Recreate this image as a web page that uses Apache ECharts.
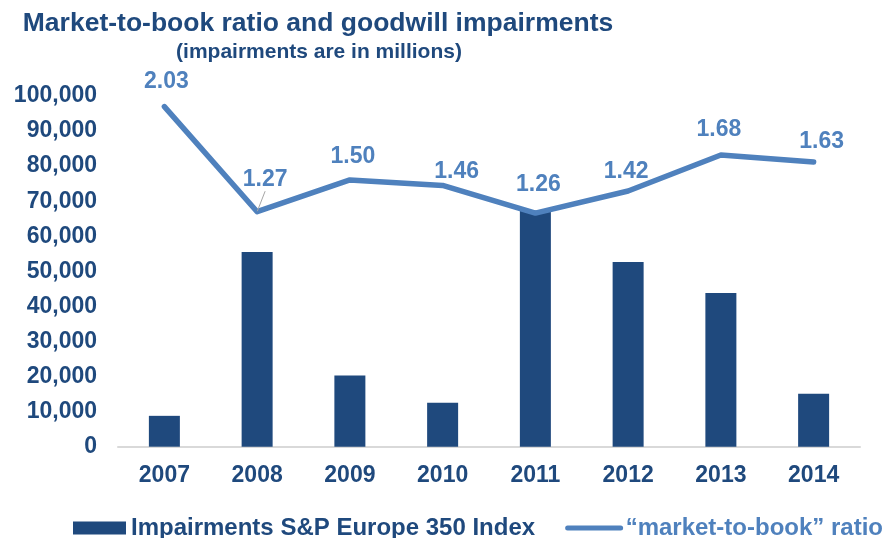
<!DOCTYPE html>
<html>
<head>
<meta charset="utf-8">
<script src="https://cdn.jsdelivr.net/npm/echarts@6/dist/echarts.min.js"></script>
<style>
  html, body { margin: 0; padding: 0; background: #ffffff; }
  #chart { width: 883px; height: 538px; }
</style>
</head>
<body>
<div id="chart"></div>
<script>
// Fiscal years on the category axis
const years = ['2007', '2008', '2009', '2010', '2011', '2012', '2013', '2014'];
// Goodwill impairments, S&P Europe 350 Index (millions)
const impairments = [8800, 55500, 20300, 12500, 67300, 52700, 43800, 15100];
// Market-to-book ratio
const marketToBook = [2.03, 1.27, 1.50, 1.46, 1.26, 1.42, 1.68, 1.63];
// Left axis ticks
const impairmentTicks = [0, 10000, 20000, 30000, 40000, 50000, 60000, 70000, 80000, 90000, 100000];

const barName = 'Impairments S&P Europe 350 Index';
const lineName = '\u201cmarket-to-book\u201d ratio';

const FONT = '"Liberation Sans", Arial, Helvetica, sans-serif';
const NAVY = '#1f497d';
const BLUE = '#4f81bd';

// Hand-placed offsets for the ratio labels (dx, dy from the point)
const ratioLabelNudge = [[2, -25], [8, -32], [3, -23], [14, -14], [3, -28], [-2, -19], [-2, -25], [8, -20]];

const chart = echarts.init(document.getElementById('chart'), null, { renderer: 'canvas' });

chart.setOption({
  animation: false,
  backgroundColor: '#ffffff',
  graphic: [
    {
      type: 'text', x: 318, y: 23.5,
      style: {
        text: 'Market-to-book ratio and goodwill impairments',
        font: 'bold 26.5px ' + FONT, fill: NAVY,
        textAlign: 'center', textVerticalAlign: 'middle'
      }
    },
    {
      type: 'text', x: 319, y: 52.5,
      style: {
        text: '(impairments are in millions)',
        font: 'bold 21px ' + FONT, fill: NAVY,
        textAlign: 'center', textVerticalAlign: 'middle'
      }
    }
  ],
  grid: { left: 118, right: 23, top: 96, bottom: 91.3, containLabel: false },
  legend: {
    left: 73, top: 516, width: 830,
    padding: 0,
    itemWidth: 53, itemHeight: 13, itemGap: 30,
    textStyle: { fontFamily: FONT, fontWeight: 'bold', fontSize: 24 },
    data: [
      { name: barName, icon: 'rect', textStyle: { color: NAVY } },
      {
        name: lineName,
        itemStyle: { opacity: 0 },
        lineStyle: { width: 5, cap: 'round' },
        textStyle: { color: BLUE }
      }
    ]
  },
  xAxis: {
    type: 'category',
    data: years,
    axisLine: { show: true, lineStyle: { color: '#d9d9d9', width: 2 } },
    axisTick: { show: false },
    axisLabel: {
      color: NAVY, fontFamily: FONT, fontWeight: 'bold', fontSize: 23, margin: 17
    }
  },
  yAxis: [
    {
      type: 'value',
      min: impairmentTicks[0],
      max: impairmentTicks[impairmentTicks.length - 1],
      interval: impairmentTicks[1] - impairmentTicks[0],
      splitLine: { show: false },
      axisLine: { show: false },
      axisTick: { show: false },
      axisLabel: {
        color: NAVY, fontFamily: FONT, fontWeight: 'bold', fontSize: 23, margin: 21,
        formatter: v => v.toLocaleString('en-US')
      }
    },
    {
      type: 'value',
      show: false,
      min: -0.43,
      max: 2.107,
      splitLine: { show: false }
    }
  ],
  series: [
    {
      name: barName,
      type: 'bar',
      yAxisIndex: 0,
      data: impairments,
      barWidth: 31,
      itemStyle: { color: NAVY },
      z: 2
    },
    {
      name: lineName,
      type: 'line',
      yAxisIndex: 1,
      data: marketToBook.map((v, i) => ({
        value: v,
        labelLine: { show: i === 1, lineStyle: { color: '#a6a6a6', width: 1 } }
      })),
      symbol: 'circle',
      symbolSize: 1,
      showSymbol: true,
      lineStyle: { color: BLUE, width: 5.5, cap: 'round', join: 'round' },
      itemStyle: { color: BLUE },
      label: {
        show: true,
        position: 'inside',
        color: BLUE,
        fontFamily: FONT,
        fontWeight: 'bold',
        fontSize: 23,
        formatter: p => p.value.toFixed(2)
      },
      labelLayout: p => ({ dx: ratioLabelNudge[p.dataIndex][0], dy: ratioLabelNudge[p.dataIndex][1] }),
      z: 3
    }
  ]
});
</script>
</body>
</html>
